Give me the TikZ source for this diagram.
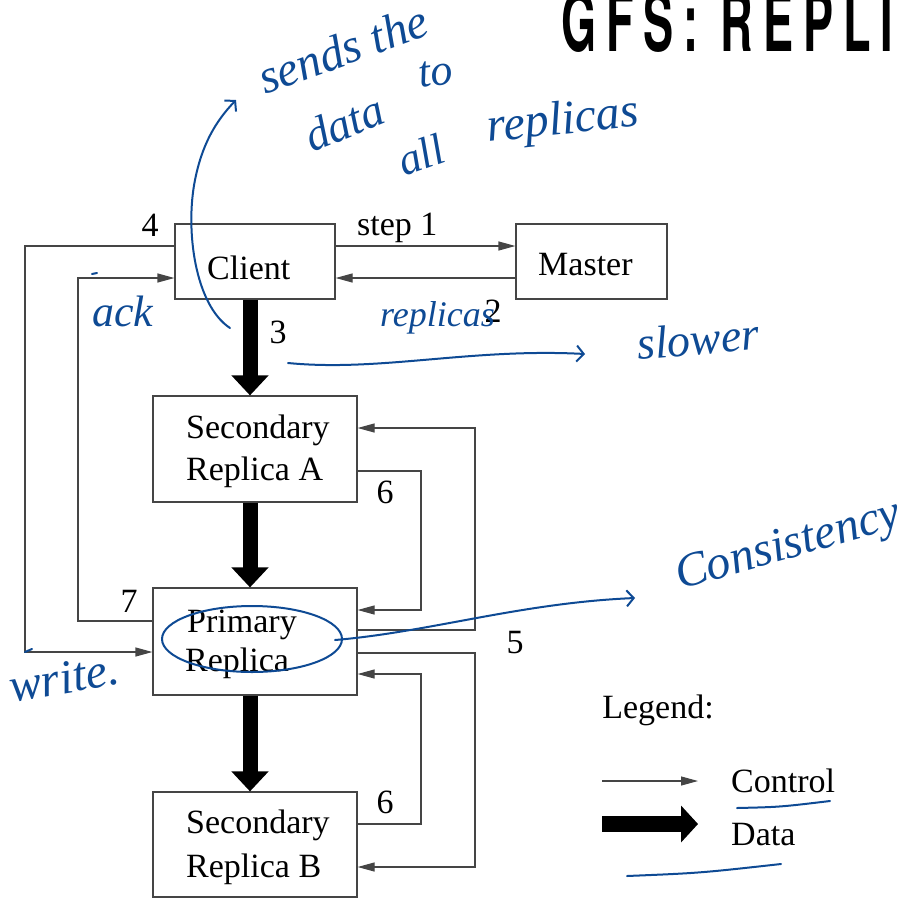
\documentclass[tikz,border=0pt]{standalone}
\usepackage{fontspec}
\setmainfont{Liberation Serif}
\newfontfamily\titlefont{TeX Gyre Heros}[FakeStretch=0.55,LetterSpace=12]
\usetikzlibrary{arrows.meta}
\definecolor{ink}{HTML}{0E4A94}
\definecolor{wire}{HTML}{454545}

\begin{document}
\begin{tikzpicture}[x=1pt,y=-1pt,
  box/.style={draw=wire,line width=1.2pt,inner sep=0pt,rectangle},
  lbl/.style={inner sep=0pt,anchor=base,font=\fontsize{34}{40}\selectfont},
  lblw/.style={lbl,anchor=base west},
  ctrl/.style={draw=wire,line width=1.2pt,-{Triangle[length=17pt,width=9pt]}},
  data/.style={draw=black,line width=15pt,-{Triangle[length=20pt,width=36pt]}},
  pen/.style={draw=ink,line width=2pt,line cap=round,line join=round},
  penarrow/.style={pen,-{Straight Barb[length=7pt,width=16pt]}},
  hand/.style={text=ink,inner sep=0pt,anchor=base west,font=\fontsize{#1}{#1}\selectfont\itshape},
]
\path[use as bounding box] (0,0) rectangle (909,899);

% heading
\node[anchor=base west,inner sep=0pt,font=\titlefont\bfseries\fontsize{82}{82}\selectfont] (title) at (561,52) {GFS: REPLI};

% boxes
\node[box,minimum width=160,minimum height=75] (client) at (255,261.5) {};
\node[box,minimum width=151,minimum height=75] (master) at (591.5,261.5) {};
\node[box,minimum width=204,minimum height=106] (secA) at (255,449) {};
\node[box,minimum width=204,minimum height=107] (prim) at (255,641.5) {};
\node[box,minimum width=204,minimum height=105] (secB) at (255,844.5) {};

% box texts
\node[lblw] (tclient) at (207,279) {Client};
\node[lblw] (tmaster) at (538,275) {Master};
\node[lblw] (tsecA1) at (186,438) {Secondary};
\node[lblw] (tsecA2) at (186,480) {Replica A};
\node[lblw] (tprim1) at (187,632) {Primary};
\node[lblw] (tprim2) at (185,671) {Replica};
\node[lblw] (tsecB1) at (186,833) {Secondary};
\node[lblw] (tsecB2) at (186,877) {Replica B};

% control flow
\draw[ctrl] (client.east |- 0,246) -- (master.west |- 0,246);
\draw[ctrl] (master.west |- 0,278) -- (client.east |- 0,278);
\draw[ctrl] (client.west |- 0,246) -- (25,246) |- (prim.west |- 0,652);
\draw[ctrl] (prim.west |- 0,621) -- (78,621) |- (client.west |- 0,278);
\draw[ctrl] (secA.east |- 0,471) -- (421,471) |- (prim.east |- 0,610);
\draw[ctrl] (prim.east |- 0,630) -- (475,630) |- (secA.east |- 0,428);
\draw[ctrl] (prim.east |- 0,653) -- (475,653) |- (secB.east |- 0,867);
\draw[ctrl] (secB.east |- 0,824) -- (421,824) |- (prim.east |- 0,674);

% data flow
\draw[data] (client.south -| 250,0) -- (secA.north -| 250,0);
\draw[data] (secA.south -| 250,0) -- (prim.north -| 250,0);
\draw[data] (prim.south -| 250,0) -- (secB.north -| 250,0);

% step numbers
\node[lblw] (nstep1) at (357,235) {step 1};
\node[lbl] (n2) at (493,322) {2};
\node[lbl] (n3) at (278,343) {3};
\node[lbl] (n4) at (150,236) {4};
\node[lbl] (n5) at (515,653) {5};
\node[lbl] (n6a) at (385,503) {6};
\node[lbl] (n6b) at (385,813) {6};
\node[lbl] (n7) at (129,612) {7};

% legend
\node[lbl] (legend) at (658,718) {Legend:};
\coordinate (lc0) at (602,781);
\coordinate (lc1) at (698,781);
\coordinate (ld0) at (602,824);
\coordinate (ld1) at (698,824);
\draw[ctrl] (lc0) -- (lc1);
\draw[draw=black,line width=16pt,-{Triangle[length=17pt,width=36pt]}] (ld0) -- (ld1);
\node[lblw] (lcontrol) at (731,792) {Control};
\node[lblw] (ldata) at (731,845) {Data};

% handwritten notes
\draw[penarrow] (230,328) .. controls (195,305) and (185,230) .. (195,180)
                .. controls (202,145) and (215,122) .. (236,100);
\node[hand=48,rotate=20] (hsends) at (265,95) {sends the};
\node[hand=44,rotate=8] (hto) at (420,88) {to};
\node[hand=46,rotate=22] (hdata) at (312,153) {data};
\node[hand=44,rotate=20] (hall) at (404,177) {all};
\node[hand=48,rotate=6] (hrepl) at (488,142) {replicas};

\node[hand=44] (hack) at (92,326) {ack};
\draw[pen] (92,274) -- (97,273);
\node[hand=36] (hreplicas) at (380,326) {replicas};

\draw[penarrow] (288,363) .. controls (380,372) and (470,348) .. (585,354);
\node[hand=46,rotate=5] (hslower) at (638,360) {slower};

\draw[pen] (252,639) ellipse [x radius=90, y radius=33];
\draw[penarrow] (335,640) .. controls (430,632) and (520,603) .. (635,598);
\node[hand=48,rotate=16] (hcons) at (680,590) {Consistency};

\node[hand=48,rotate=10] (hwrite) at (12,703) {write.};
\draw[pen] (25,652) -- (32,649);

\draw[pen] (737,808) .. controls (780,807) .. (830,801);
\draw[pen] (627,876) .. controls (700,873) .. (781,864);
\end{tikzpicture}
\end{document}
